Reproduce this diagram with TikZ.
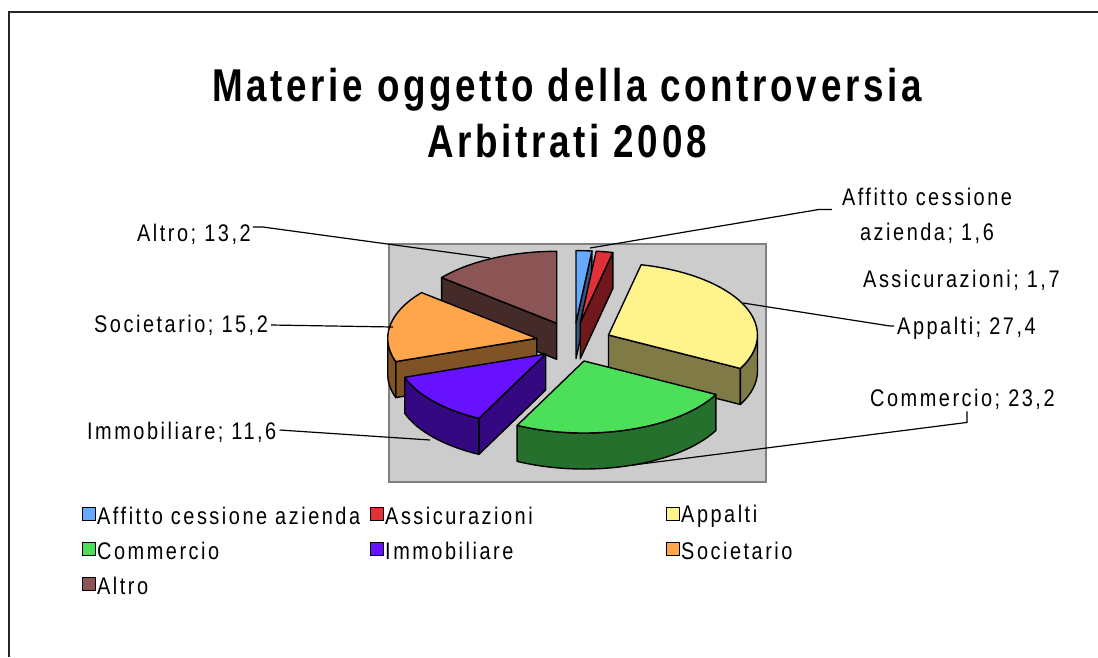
\documentclass[tikz,border=0pt]{standalone}
\usepackage{fontspec}
\usetikzlibrary{calc}
\newfontfamily\titlefont[FakeStretch=0.8,LetterSpace=8]{Liberation Sans}
\newfontfamily\labfont[FakeStretch=0.83,LetterSpace=10.5]{Liberation Sans}
\definecolor{cAff}{RGB}{102,170,255}
\definecolor{cAss}{RGB}{224,48,56}
\definecolor{cApp}{RGB}{255,244,140}
\definecolor{cCom}{RGB}{76,224,90}
\definecolor{cImm}{RGB}{102,17,255}
\definecolor{cSoc}{RGB}{255,166,77}
\definecolor{cAlt}{RGB}{139,85,85}
\definecolor{plotgray}{RGB}{204,204,204}
\definecolor{plotedge}{RGB}{128,128,128}
\newcommand\pietop[4]{\filldraw[fill=#4,pieline] (#1) -- ($(#1)+(#2:149 and 72)$) arc[start angle=#2,end angle=#3,x radius=149,y radius=72] -- cycle;}
\newcommand\pieradial[3]{\filldraw[fill=#3!50!black,pieline] (#1) -- ($(#1)+(#2:149 and 72)$) -- ++(0,-36) -- ($(#1)+(0,-36)$) -- cycle;}
\newcommand\pieside[4]{\filldraw[fill=#4!50!black,pieline] ($(#1)+(#2:149 and 72)$) arc[start angle=#2,end angle=#3,x radius=149,y radius=72] -- ++(0,-36) arc[start angle=#3,end angle=#2,x radius=149,y radius=72] -- cycle;}
\begin{document}
\begin{tikzpicture}[x=1pt,y=1pt,
  pieline/.style={draw=black,line width=1.4pt,line join=round},
  leader/.style={draw=black,line width=1.2pt},
  lab/.style={inner sep=0pt,font=\labfont\fontsize{24}{35}\selectfont},
  ttl/.style={inner sep=0pt,font=\titlefont\bfseries\fontsize{46}{56}\selectfont},
  legsq/.style={draw=black,line width=1.2pt,minimum size=13pt,inner sep=0pt}]
\useasboundingbox (0,0) rectangle (1098,-657);
\fill[white] (0,0) rectangle (1098,-657);
\draw[line width=2pt,black!85] (9,-657) -- (9,-12) -- (1098,-12);

% title
\node[ttl,anchor=base] (title1) at (567,-101) {Materie oggetto della controversia};
\node[ttl,anchor=base] (title2) at (567,-157) {Arbitrati 2008};

% plot area
\filldraw[fill=plotgray,draw=plotedge,line width=2pt] (389,-244) rectangle (766,-482);

% slice apexes
\coordinate (A1) at (576,-322.6);
\coordinate (A2) at (580.2,-322.8);
\coordinate (A3) at (608.5,-335);
\coordinate (A4) at (584,-361);
\coordinate (A5) at (545.7,-354);
\coordinate (A6) at (536.7,-338.3);
\coordinate (A7) at (556.7,-323.3);

% Altro
\pieradial{A7}{140.6}{cAlt}
\pietop{A7}{90}{140.6}{cAlt}
% Affitto
\pieradial{A1}{83.87}{cAff}
\pietop{A1}{83.87}{90}{cAff}
% Assicurazioni
\pieradial{A2}{77.35}{cAss}
\pietop{A2}{77.35}{83.87}{cAss}
% Appalti
\pieradial{A3}{-27.7}{cApp}
\pieside{A3}{-27.7}{0}{cApp}
\pietop{A3}{-27.7}{77.35}{cApp}
% Societario
\pieradial{A6}{198.88}{cSoc}
\pieside{A6}{180}{198.88}{cSoc}
\pietop{A6}{140.6}{198.88}{cSoc}
% Immobiliare
\pieradial{A5}{-116.65}{cImm}
\pieside{A5}{-161.12}{-116.65}{cImm}
\pietop{A5}{-161.12}{-116.65}{cImm}
% Commercio
\pieside{A4}{-116.65}{-27.7}{cCom}
\pietop{A4}{-116.65}{-27.7}{cCom}

% labels
\node[lab,anchor=west] (altroL) at (137,-234) {Altro; 13,2};
\node[lab,anchor=west] (socL) at (94,-325) {Societario; 15,2};
\node[lab,anchor=west] (immL) at (87,-432) {Immobiliare; 11,6};
\node[lab,align=center] (affL) at (927,-215.5) {Affitto cessione\\azienda; 1,6};
\node[lab,anchor=west] (assL) at (863,-280) {Assicurazioni; 1,7};
\node[lab,anchor=west] (appL) at (897,-328) {Appalti; 27,4};
\node[lab,anchor=west] (comL) at (870,-399) {Commercio; 23,2};

% leader end points on the pie
\coordinate (altroP) at (490,-258);
\coordinate (socP) at (393,-327);
\coordinate (immP) at (430,-440);
\coordinate (affP) at (590,-248);
\coordinate (appP) at (743,-303);
\coordinate (comP) at (633,-465);

\draw[leader] ([xshift=2pt,yshift=7pt]altroL.east) -- ++(10,0) -- (altroP);
\draw[leader] ([xshift=3pt]socL.east) -- (socP);
\draw[leader] ([xshift=3pt,yshift=2pt]immL.east) -- (immP);
\draw[leader] ([xshift=-10pt,yshift=6pt]affL.west) -- ++(-13,0) -- (affP);
\draw[leader] ([xshift=-3pt,yshift=2pt]appL.west) -- ++(-4,0) -- (appP);
\draw[leader] ([xshift=97pt,yshift=-2pt]comL.south west) -- ++(0,-11) -- (comP);

% legend
\node[legsq,fill=cAff] (lq1) at (89,-514) {};
\node[lab,anchor=west] (lt1) at (97,-516) {Affitto cessione azienda};
\node[legsq,fill=cAss] (lq2) at (377,-514) {};
\node[lab,anchor=west] (lt2) at (385,-516) {Assicurazioni};
\node[legsq,fill=cApp] (lq3) at (673,-514) {};
\node[lab,anchor=west] (lt3) at (681,-516) {Appalti};
\node[legsq,fill=cCom] (lq4) at (89,-549) {};
\node[lab,anchor=west] (lt4) at (97,-551) {Commercio};
\node[legsq,fill=cImm] (lq5) at (377,-549) {};
\node[lab,anchor=west] (lt5) at (385,-551) {Immobiliare};
\node[legsq,fill=cSoc] (lq6) at (673,-549) {};
\node[lab,anchor=west] (lt6) at (681,-551) {Societario};
\node[legsq,fill=cAlt] (lq7) at (89,-584) {};
\node[lab,anchor=west] (lt7) at (97,-586) {Altro};
\end{tikzpicture}
\end{document}
